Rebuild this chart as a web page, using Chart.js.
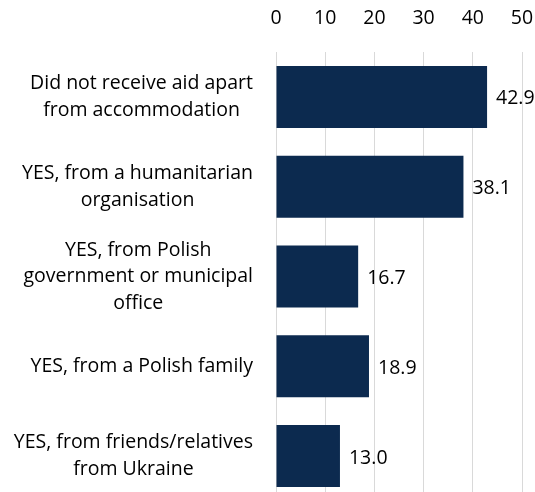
<!DOCTYPE html>
<html>
<head>
<meta charset="utf-8">
<script src="https://cdn.jsdelivr.net/npm/chart.js@4"></script>
<style>
    html, body { margin: 0; padding: 0; background: #fff; overflow: hidden; }
    #aidChart { width: 535px; height: 501px; position: relative; }
</style>
</head>
<body>
<div id="aidChart"><canvas></canvas></div>
<script>
const aidCategories = [
    ["Did not receive aid apart", "from accommodation"],
    ["YES, from a humanitarian", "organisation"],
    ["YES, from Polish", "government or municipal", "office"],
    ["YES, from a Polish family"],
    ["YES, from friends/relatives", "from Ukraine"]
]
const aidShares = [42.9, 38.1, 16.7, 18.9, 13.0]
const axisTicks = [0, 10, 20, 30, 40, 50]

const FONT_FAMILY = "'Open Sans'"
const FONT_SIZE = 19.5
const BAR_COLOR = "#0c2a4f"

// labels beside the bars, with one decimal place like the source table
const valueLabels = {
    id: "valueLabels",
    afterDatasetsDraw(chart){
        const ctx = chart.ctx
        const meta = chart.getDatasetMeta(0)
        ctx.save()
        ctx.font = `${FONT_SIZE}px ${FONT_FAMILY}`
        ctx.fillStyle = "#000"
        ctx.textAlign = "left"
        ctx.textBaseline = "middle"
        meta.data.forEach((bar, i) => {
            ctx.fillText(aidShares[i].toFixed(1), bar.x + 9, bar.y + 2)
        })
        ctx.restore()
    }
}

// category names: each block centred on itself, blocks right-aligned to the axis
const categoryLabels = {
    id: "categoryLabels",
    afterDraw(chart){
        const ctx = chart.ctx
        const yScale = chart.scales.y
        const rightEdge = 253
        const lineHeight = 26.5
        ctx.save()
        ctx.font = `${FONT_SIZE}px ${FONT_FAMILY}`
        ctx.fillStyle = "#000"
        ctx.textAlign = "center"
        ctx.textBaseline = "middle"
        aidCategories.forEach((lines, i) => {
            const widest = Math.max(...lines.map(l => ctx.measureText(l).width))
            const cx = rightEdge - widest / 2
            const cy = yScale.getPixelForTick(i)
            const top = cy - (lines.length - 1) * lineHeight / 2
            lines.forEach((line, k) => {
                ctx.fillText(line, cx, top + k * lineHeight)
            })
        })
        ctx.restore()
    }
}

const container = document.querySelector("#aidChart")
const chart = new Chart(container.querySelector("canvas"), {
    type: "bar",
    data: {
        labels: aidCategories.map(l => l.join(" ")),
        datasets: [{
            data: aidShares,
            backgroundColor: BAR_COLOR,
            borderWidth: 0,
            barPercentage: 0.69,
            categoryPercentage: 1
        }]
    },
    options: {
        indexAxis: "y",
        responsive: true,
        maintainAspectRatio: false,
        animation: false,
        layout: { padding: { left: 0, right: 13, top: 0, bottom: 0 } },
        plugins: {
            legend: { display: false },
            tooltip: { enabled: false }
        },
        scales: {
            x: {
                position: "top",
                min: 0,
                max: 50,
                afterBuildTicks: scale => {
                    scale.ticks = axisTicks.map(v => ({ value: v }))
                },
                afterFit: scale => {
                    scale.height = 52
                    // the "50" label may overhang; keep the plot edge fixed
                    scale.paddingLeft = 0
                    scale.paddingRight = 0
                },
                grid: { color: "#d9d9d9", lineWidth: 1, drawTicks: false },
                border: { display: false },
                ticks: {
                    padding: 22,
                    color: "#000",
                    font: { family: FONT_FAMILY, size: FONT_SIZE }
                }
            },
            y: {
                afterFit: scale => { scale.width = 276 },
                grid: { display: false },
                border: { display: false },
                ticks: { display: false }
            }
        }
    },
    plugins: [valueLabels, categoryLabels]
})
</script>
</body>
</html>
